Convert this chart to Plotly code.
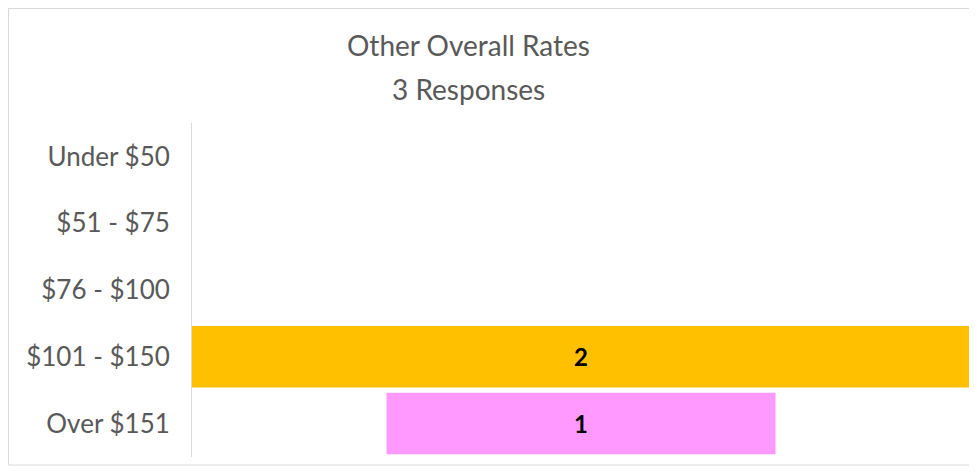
import plotly.graph_objects as go

categories = ["Under $50", "$51 - $75", "$76 - $100", "$101 - $150", "Over $151"]
values = [0, 0, 0, 2, 1]
colors = ["#FFC000", "#FFC000", "#FFC000", "#FFC000", "#FF99FF"]
title_line1 = "Other Overall Rates"
title_line2 = "3 Responses"

OFF = 8  # page body margin
W, H = 977 - OFF, 472 - OFF
L, R, T, B = 192 - OFF, 7, 123 - OFF, 15
pw = W - L - R
ph = H - T - B

def px_x(p):
    return (p - OFF - L) / pw

def px_y(p):
    return (H - B - (p - OFF)) / ph

fig = go.Figure(go.Funnel(
    y=categories,
    x=values,
    marker=dict(color=colors),
    textinfo="value",
    textposition="inside",
    insidetextanchor="middle",
    textfont=dict(family="Lato", size=24, color="black", weight="bold"),
    connector=dict(visible=False),
    hoverinfo="skip",
))

fig.update_layout(
    width=W, height=H,
    margin=dict(l=L, r=R, t=T, b=B),
    paper_bgcolor="white",
    plot_bgcolor="white",
    showlegend=False,
    funnelgap=0.08,
    font=dict(family="Lato", color="#595959"),
    xaxis=dict(visible=False, range=[-1, 1]),
    yaxis=dict(
        showline=True, linecolor="#D9D9D9", linewidth=1,
        showgrid=False, zeroline=False,
        tickfont=dict(family="Lato", size=26, color="#595959"),
        ticklabelstandoff=16,
    ),
    shapes=[dict(
        type="rect", xref="paper", yref="paper",
        x0=px_x(OFF + 0.5), x1=px_x(990), y0=px_y(465), y1=px_y(OFF + 0.5),
        line=dict(color="#D9D9D9", width=1), fillcolor="rgba(0,0,0,0)",
        layer="below",
    )],
    annotations=[
        dict(text=title_line1, xref="paper", yref="paper", x=px_x(468), y=px_y(45),
             showarrow=False, xanchor="center", yanchor="middle",
             font=dict(family="Lato", size=28, color="#595959")),
        dict(text=title_line2, xref="paper", yref="paper", x=px_x(468), y=px_y(89),
             showarrow=False, xanchor="center", yanchor="middle",
             font=dict(family="Lato", size=28, color="#595959")),
    ],
)

fig.write_html("out.html")
